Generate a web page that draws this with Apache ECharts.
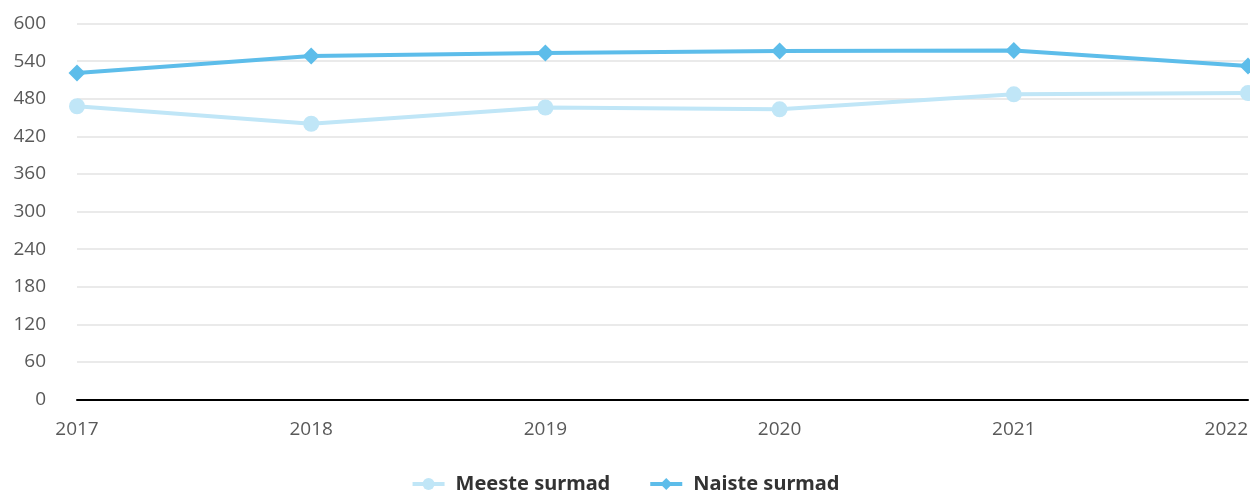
<!DOCTYPE html>
<html>
<head>
<meta charset="utf-8">
<script src="https://cdn.jsdelivr.net/npm/echarts@6/dist/echarts.min.js"></script>
<style>
html, body { margin: 0; padding: 0; background: #fff; }
#main { width: 1250px; height: 493px; }
</style>
</head>
<body>
<div id="main"></div>
<script>
var years = ['2017', '2018', '2019', '2020', '2021', '2022']
var meeste = [468, 440, 466, 463, 487, 489]
var naiste = [521, 548, 553, 556, 557, 532]

var myChart = echarts.init(document.getElementById('main'))

var option = {
    animation: false,
    textStyle: { fontFamily: 'Open Sans' },
    grid: { left: 77, right: 2, top: 23.5, bottom: 93.5, containLabel: false, outerBoundsMode: 'none' },
    legend: {
        bottom: -6,
        itemGap: 38,
        itemWidth: 32,
        itemHeight: 15,
        lineStyle: { width: 4 },
        textStyle: { fontSize: 20, fontWeight: 'bold', color: '#333', fontFamily: 'Noto Sans', padding: [0, 0, 0, 6] },
        data: ['Meeste surmad', 'Naiste surmad']
    },
    xAxis: {
        type: 'category',
        data: years,
        boundaryGap: false,
        axisLine: { lineStyle: { color: '#000', width: 2 } },
        axisTick: { show: false },
        axisLabel: { color: '#595959', fontSize: 19, margin: 21, alignMaxLabel: 'right' }
    },
    yAxis: {
        type: 'value',
        min: 0,
        max: 600,
        interval: 60,
        axisLine: { show: false },
        axisTick: { show: false },
        axisLabel: { color: '#595959', fontSize: 19, margin: 31 },
        splitLine: { lineStyle: { color: '#e3e3e3', width: 1.5 } }
    },
    series: [
        {
            name: 'Meeste surmad',
            type: 'line',
            data: meeste,
            symbol: 'circle',
            symbolSize: 16,
            itemStyle: { color: '#c0e6f7' },
            lineStyle: { color: '#c0e6f7', width: 4 }
        },
        {
            name: 'Naiste surmad',
            type: 'line',
            data: naiste,
            symbol: 'diamond',
            symbolSize: 17,
            itemStyle: { color: '#5dbdea' },
            lineStyle: { color: '#5dbdea', width: 4 }
        }
    ]
}

myChart.setOption(option)
</script>
</body>
</html>
